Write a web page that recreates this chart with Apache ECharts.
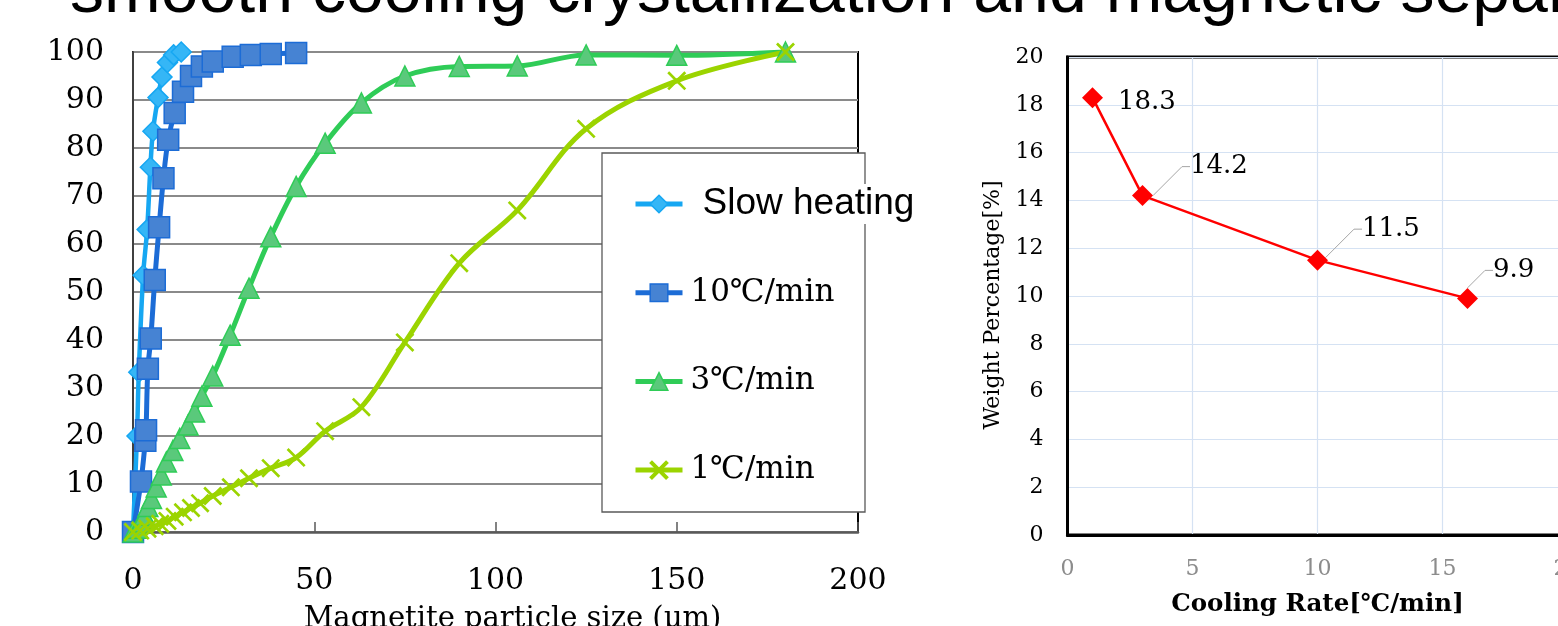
<!DOCTYPE html>
<html><head><meta charset="utf-8">
<script src="https://cdn.jsdelivr.net/npm/echarts@6/dist/echarts.min.js"></script>
<style>html,body{margin:0;padding:0;background:#fff;overflow:hidden}#c{width:1558px;height:626px}</style>
</head><body><div id="c"></div><script>
// ---------- data ----------
const titleText = 'smooth cooling crystallization and magnetic separation';
const seriesNames = ['Slow heating', '10℃/min', '3℃/min', '1℃/min'];
const slowHeating = [[0,0],[1.1,20],[1.6,33.3],[2.8,53.5],[3.9,63],[4.8,76],[5.5,83.5],[6.9,90.5],[8,94.8],[9.5,97.8],[11.2,99.4],[13.3,100]];
const rate10 = [[0,0],[2.2,10.5],[3.4,19],[3.6,21.2],[4.1,34],[4.9,40.3],[6,52.5],[7.2,63.5],[8.4,73.7],[9.7,81.7],[11.5,87.3],[13.8,91.7],[16,95],[19,97],[22,98],[27.5,99],[32.5,99.4],[38,99.6],[45,99.8]];
const rate3 = [[0,0],[1.3,0.8],[2.3,2.1],[3.2,3.5],[4.1,5.3],[5.1,7],[6.4,9.4],[7.8,11.9],[9.2,14.6],[11,17],[12.9,19.5],[15.2,22.3],[17,25],[19,28.3],[22,32.5],[26.8,41],[32,50.8],[38,61.5],[45,72],[53,81],[63,89.4],[75,95],[90,97],[106,97.1],[125,99.4],[150,99.3],[180,100]];
const rate1 = [[0,0],[2,0.3],[4,0.7],[6,1.2],[7.5,1.7],[9.5,2.3],[11.5,3.2],[13.8,4.1],[16,5],[18.5,6],[22,7.5],[27,9.3],[32,11.2],[38,13.3],[45,15.5],[53,21],[63,26],[75,39.5],[90,56],[106,67],[125,84],[150,94],[180,100]];
const sizeAxis = {min: 0, max: 200, interval: 50};
const cumAxis = {min: 0, max: 100, interval: 10};
const xAxisName1 = 'Magnetite particle size (μm)';

const coolingRate = [1, 3, 10, 16];
const weightPct = [18.3, 14.2, 11.5, 9.9];
const rateAxis = {min: 0, max: 20, interval: 5};
const pctAxis = {min: 0, max: 20, interval: 2};
const xAxisName2 = 'Cooling Rate[℃/min]';
const yAxisName2 = 'Weight Percentage[%]';

// ---------- chart ----------
const SERIF = 'DejaVu Serif';
const crossPath = 'path://M0,0.1L0.1,0L1,0.9L0.9,1Z M0.9,0L1,0.1L0.1,1L0,0.9Z';
const labelOffsets = [[10, 5], [32, -29], [29, -31], [10, -28]];
const colors = {
  slow: ['#16a7f2', '#35b6f6'], r10: ['#1c6cd6', '#4683d3'],
  r3: ['#2fcc57', '#5ac97b'], r1: ['#9bd400', '#9bd400']
};

const chart = echarts.init(document.getElementById('c'), null, {renderer: 'canvas'});
const lineSeries = (name, data, c, symbol, size, width) => ({
  name, type: 'line', data, xAxisIndex: 0, yAxisIndex: 0,
  smooth: 0.35, clip: false,
  symbol, symbolSize: size,
  lineStyle: {color: c[0], width},
  itemStyle: {color: c[1], borderColor: c[0], borderWidth: symbol === crossPath ? 0 : 1.5},
  emphasis: {disabled: true}
});
const legendItem = (name, c, font, size, pad) => ({
  name,
  lineStyle: {color: c[0], width: 5},
  itemStyle: {color: c[1], borderColor: c[0], borderWidth: 1.5},
  textStyle: {fontFamily: font, fontSize: size, color: '#000', lineHeight: 40, backgroundColor: '#fff', padding: [0, 0, 0, pad]}
});

chart.setOption({
  animation: false,
  backgroundColor: '#fff',
  graphic: [
    {type: 'text', left: 70, top: -41, z: 10,
     style: {text: titleText, font: '68px "Liberation Sans"', fill: '#000'}},
    {type: 'rect', z: 3, shape: {x: 602, y: 153, width: 263, height: 359},
     style: {fill: '#fff', stroke: '#595959', lineWidth: 1.3}}
  ],
  grid: [
    {left: 133, top: 52, right: 700, bottom: 94, outerBoundsMode: 'none', containLabel: false,
     show: true, borderColor: '#000', borderWidth: 2},
    {left: 1067.5, top: 57, width: 500, bottom: 91, outerBoundsMode: 'none', containLabel: false,
     show: true, borderColor: '#000', borderWidth: 3}
  ],
  xAxis: [
    {gridIndex: 0, type: 'value', ...sizeAxis,
     name: xAxisName1, nameLocation: 'middle', nameGap: 73,
     nameTextStyle: {fontFamily: SERIF, fontSize: 29, color: '#000', padding: [0, 0, 0, 34]},
     axisLine: {show: true, lineStyle: {color: '#595959', width: 2.5}},
     axisTick: {show: true, inside: true, length: 10, lineStyle: {color: '#595959', width: 1.5}},
     axisLabel: {fontFamily: SERIF, fontSize: 30, color: '#000', margin: 34},
     splitLine: {show: false}},
    {gridIndex: 1, type: 'value', ...rateAxis,
     name: xAxisName2, nameLocation: 'middle', nameGap: 57,
     nameTextStyle: {fontFamily: SERIF, fontSize: 24.5, fontWeight: 'bold', color: '#000'},
     axisLine: {show: true, lineStyle: {color: '#000', width: 3}},
     axisTick: {show: false},
     axisLabel: {fontFamily: SERIF, fontSize: 22, color: '#8c8c8c', margin: 23},
     splitLine: {show: true, lineStyle: {color: '#d5e2f3', width: 1.2}}}
  ],
  yAxis: [
    {gridIndex: 0, type: 'value', ...cumAxis,
     axisLine: {show: true, lineStyle: {color: '#404040', width: 2}},
     axisTick: {show: false},
     axisLabel: {fontFamily: SERIF, fontSize: 30, color: '#000', margin: 29, padding: [12, 0, 0, 0]},
     splitLine: {show: true, lineStyle: {color: '#8a8a8a', width: 2}}},
    {gridIndex: 1, type: 'value', ...pctAxis,
     name: yAxisName2, nameLocation: 'middle', nameGap: 63,
     nameTextStyle: {fontFamily: SERIF, fontSize: 22, color: '#000', padding: [0, 18, 0, 0]},
     axisLine: {show: true, lineStyle: {color: '#000', width: 3}},
     axisTick: {show: false},
     axisLabel: {fontFamily: SERIF, fontSize: 22, color: '#000', margin: 24},
     splitLine: {show: true, lineStyle: {color: '#d5e2f3', width: 1.2}}}
  ],
  legend: {
    orient: 'vertical', left: 602, top: 156, z: 5,
    padding: [28, 0, 28, 31], itemGap: 48.7,
    itemWidth: 47, itemHeight: 22,
    selectedMode: false,
    data: [
      legendItem(seriesNames[0], colors.slow, '"Liberation Sans"', 37, 15),
      legendItem(seriesNames[1], colors.r10, SERIF, 31, 3),
      legendItem(seriesNames[2], colors.r3, SERIF, 31, 3),
      legendItem(seriesNames[3], colors.r1, SERIF, 31, 3)
    ]
  },
  series: [
    lineSeries(seriesNames[0], slowHeating, colors.slow, 'diamond', 20, 4.5),
    lineSeries(seriesNames[1], rate10, colors.r10, 'rect', 21, 5),
    lineSeries(seriesNames[2], rate3, colors.r3, 'triangle', 20, 5),
    lineSeries(seriesNames[3], rate1, colors.r1, crossPath, 19, 5),
    {
      name: 'weight', type: 'line', xAxisIndex: 1, yAxisIndex: 1,
      data: coolingRate.map((c, i) => ({value: [c, weightPct[i]], labelLine: {show: i > 0}})),
      symbol: 'diamond', symbolSize: 21, clip: false,
      lineStyle: {color: '#ff0000', width: 2.5},
      itemStyle: {color: '#ff0000'},
      emphasis: {disabled: true},
      label: {show: true, position: 'right', distance: 5, fontFamily: SERIF, fontSize: 26, color: '#000',
               formatter: p => p.value[1].toFixed(1)},
      labelLine: {show: true, lineStyle: {color: '#a6a6a6', width: 1}, length2: 8},
      labelLayout: p => ({dx: labelOffsets[p.dataIndex][0], dy: labelOffsets[p.dataIndex][1]})
    }
  ]
});
</script></body></html>
